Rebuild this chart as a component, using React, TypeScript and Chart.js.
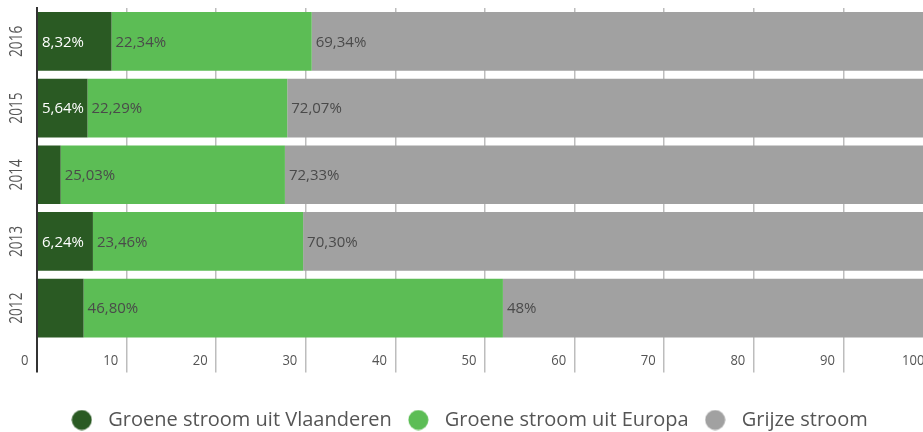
import React, { useEffect, useRef } from 'react';
import { Chart, registerables } from 'chart.js';

Chart.register(...registerables);

const years = ['2016', '2015', '2014', '2013', '2012'];
const vlaanderen = [8.32, 5.64, 2.64, 6.24, 5.2];
const europa = [22.34, 22.29, 25.03, 23.46, 46.8];
const grijs = [69.34, 72.07, 72.33, 70.3, 48];
const seriesNames = ['Groene stroom uit Vlaanderen', 'Groene stroom uit Europa', 'Grijze stroom'];
const seriesColors = ['#2a5a23', '#5cbd55', '#a1a1a1'];
const hiddenVlaanderenLabels = ['2014', '2012'];
const xTickValues = [0, 10, 20, 30, 40, 50, 60, 70, 80, 90, 100];

const TEXT_FONT = "'Open Sans', sans-serif";
const TICK_COLOR = '#555555';

const fmt = (v: number) => (Number.isInteger(v) ? String(v) : v.toFixed(2).replace('.', ',')) + '%';

const tickLabelPlugin = {
  id: 'tickLabels',
  afterDraw(chart: any) {
    const ctx = chart.ctx;
    const area = chart.chartArea;
    const ys = chart.scales.y;
    const xs = chart.scales.x;
    ctx.save();
    ctx.fillStyle = TICK_COLOR;
    // y (category) labels, rotated
    ctx.font = `18px ${TEXT_FONT}`;
    ctx.textAlign = 'center';
    ctx.textBaseline = 'middle';
    years.forEach((yr, i) => {
      const py = ys.getPixelForValue(i);
      ctx.save();
      ctx.translate(area.left - 20.5, py);
      ctx.rotate(-Math.PI / 2);
      ctx.scale(0.76, 1);
      ctx.fillText(yr, 0, 0);
      ctx.restore();
    });
    // x value labels, to the left of each grid line
    ctx.font = `15px ${TEXT_FONT}`;
    ctx.textAlign = 'right';
    xTickValues.forEach((v) => {
      const px = xs.getPixelForValue(v);
      ctx.save();
      ctx.translate(px - 8.5, area.bottom + 19.5);
      ctx.scale(0.87, 1);
      ctx.fillText(String(v), 0, 0);
      ctx.restore();
    });
    ctx.restore();
  },
};

const dataLabelPlugin = {
  id: 'dataLabels',
  afterDatasetsDraw(chart: any) {
    const ctx = chart.ctx;
    ctx.save();
    ctx.font = `15px ${TEXT_FONT}`;
    ctx.textAlign = 'left';
    ctx.textBaseline = 'middle';
    chart.data.datasets.forEach((ds: any, di: number) => {
      const meta = chart.getDatasetMeta(di);
      meta.data.forEach((bar: any, i: number) => {
        if (di === 0 && hiddenVlaanderenLabels.includes(years[i])) return;
        const v = ds.data[i];
        const start = Math.min(bar.base, bar.x);
        ctx.fillStyle = di === 0 ? '#ffffff' : '#4a4a4a';
        ctx.fillText(fmt(v), start + 4, bar.y + 1);
      });
    });
    ctx.restore();
  },
};

function makeDot(color: string) {
  const c = document.createElement('canvas');
  c.width = 21;
  c.height = 21;
  const g = c.getContext('2d')!;
  g.fillStyle = color;
  g.beginPath();
  g.arc(10.5, 10.5, 10, 0, Math.PI * 2);
  g.fill();
  return c;
}

export default function App() {
  const ref = useRef<HTMLCanvasElement | null>(null);

  useEffect(() => {
    if (!ref.current) return;
    const dots = seriesColors.map(makeDot);
    const chart = new Chart(ref.current, {
      type: 'bar',
      data: {
        labels: years,
        datasets: [
          { label: seriesNames[0], data: vlaanderen, backgroundColor: seriesColors[0] },
          { label: seriesNames[1], data: europa, backgroundColor: seriesColors[1] },
          { label: seriesNames[2], data: grijs, backgroundColor: seriesColors[2] },
        ],
      },
      options: {
        indexAxis: 'y',
        responsive: false,
        animation: false,
        layout: { padding: { left: 0, right: 1, top: 8, bottom: 0 } },
        datasets: { bar: { categoryPercentage: 0.88, barPercentage: 1 } },
        scales: {
          x: {
            stacked: true,
            min: 0,
            max: 100,
            ticks: { stepSize: 10, display: false },
            grid: {
              color: (c: any) => (c.index === 0 ? '#333333' : '#bdbdbd'),
              lineWidth: (c: any) => (c.index === 0 ? 2 : 1.5),
              tickLength: 31,
              drawTicks: true,
            },
            border: { display: false },
            afterFit: (scale: any) => {
              scale.height = 58.5;
            },
          },
          y: {
            stacked: true,
            grid: { display: false, drawTicks: false },
            border: { display: true, color: '#333333', width: 2 },
            ticks: { display: false },
            afterFit: (scale: any) => {
              scale.width = 37;
            },
          },
        },
        plugins: {
          legend: {
            position: 'bottom',
            labels: {
              usePointStyle: true,
              pointStyleWidth: 33,
              boxHeight: 20,
              padding: 10,
              color: TICK_COLOR,
              font: { family: TEXT_FONT, size: 20 },
              generateLabels: (ch: any) => {
                const items = Chart.defaults.plugins.legend.labels.generateLabels(ch);
                return items.map((it: any, i: number) => ({ ...it, pointStyle: dots[i] }));
              },
            },
          },
          tooltip: { enabled: false },
        },
      } as any,
      plugins: [tickLabelPlugin, dataLabelPlugin],
    });
    return () => chart.destroy();
  }, []);

  return (
    <div style={{ position: 'absolute', left: 0, top: 0, width: 923, height: 432, overflow: 'hidden', background: '#fff' }}>
      <canvas ref={ref} width={934} height={440} style={{ display: 'block' }} />
    </div>
  );
}
